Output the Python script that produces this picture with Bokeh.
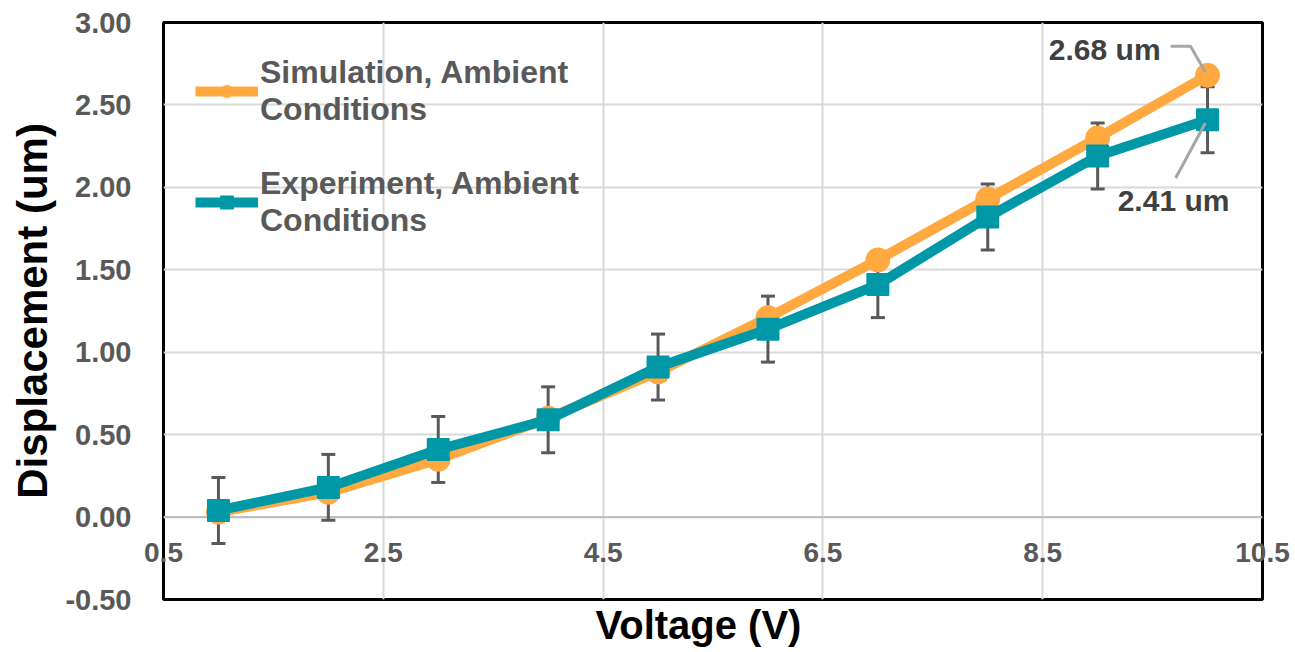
from bokeh.plotting import figure
from bokeh.models import (ColumnDataSource, FixedTicker, NumeralTickFormatter, Whisker,
                          TeeHead, Label, Legend, LegendItem, Title, Range1d, Span)
from bokeh.embed import file_html
from bokeh.resources import INLINE

# ---- data ----
voltage = [1, 2, 3, 4, 5, 6, 7, 8, 9, 10]
simulation = [0.03, 0.15, 0.35, 0.60, 0.88, 1.21, 1.56, 1.93, 2.30, 2.68]
experiment = [0.04, 0.18, 0.41, 0.59, 0.91, 1.14, 1.41, 1.82, 2.19, 2.41]
exp_error = [0.2, 0.2, 0.2, 0.2, 0.2, 0.2, 0.2, 0.2, 0.2, 0.2]
x_ticks = [0.5, 2.5, 4.5, 6.5, 8.5, 10.5]
y_ticks = [-0.5, 0.0, 0.5, 1.0, 1.5, 2.0, 2.5, 3.0]
x_axis_crossing = 0.0
sim_label = "Simulation, Ambient\nConditions"
exp_label = "Experiment, Ambient\nConditions"
sim_note = "2.68 um"
exp_note = "2.41 um"

ORANGE = "#FFA940"
TEAL = "#0098A6"
GRAY_TXT = "#595959"
FONT = "Liberation Sans"

p = figure(width=1295, height=652, x_range=Range1d(0.5, 10.5), y_range=Range1d(-0.5, 3.0),
           output_backend="svg", toolbar_location=None,
           min_border_left=163, min_border_top=22, min_border_right=33, min_border_bottom=53)
p.background_fill_color = "white"
p.border_fill_color = "white"
p.outline_line_color = "black"
p.outline_line_width = 3

# horizontal axis line where the x axis crosses (y = 0)
p.add_layout(Span(location=x_axis_crossing, dimension="width", line_color="#bfbfbf",
                  line_width=2, level="underlay"))

# x axis: labels lifted up into the plot so they sit just under the y = 0 line
p.xaxis.ticker = FixedTicker(ticks=x_ticks)
p.xaxis.formatter = NumeralTickFormatter(format="0.0")
p.xaxis.axis_line_color = None
p.xaxis.major_tick_line_color = None
p.xaxis.minor_tick_line_color = None
p.xaxis.major_tick_out = 0
p.xaxis.minor_tick_out = 0
p.xaxis.major_tick_in = 0
p.xaxis.minor_tick_in = 0
p.xaxis.major_label_text_font = FONT
p.xaxis.major_label_text_font_size = "28px"
p.xaxis.major_label_text_font_style = "bold"
p.xaxis.major_label_text_color = GRAY_TXT
p.xaxis.major_label_standoff = -57

p.yaxis.ticker = FixedTicker(ticks=y_ticks)
p.yaxis.formatter = NumeralTickFormatter(format="0.00")
p.yaxis.axis_line_color = None
p.yaxis.major_tick_line_color = None
p.yaxis.minor_tick_line_color = None
p.yaxis.major_label_text_font = FONT
p.yaxis.major_label_text_font_size = "29px"
p.yaxis.major_label_text_font_style = "bold"
p.yaxis.major_label_text_color = GRAY_TXT
p.yaxis.major_label_standoff = 26
p.yaxis.axis_label = "Displacement (um)"
p.yaxis.axis_label_text_font = FONT
p.yaxis.axis_label_text_font_size = "42px"
p.yaxis.axis_label_text_font_style = "bold"
p.yaxis.axis_label_text_color = "black"
p.yaxis.axis_label_standoff = 6

p.xgrid.ticker = FixedTicker(ticks=x_ticks)
p.ygrid.ticker = FixedTicker(ticks=y_ticks)
p.xgrid.grid_line_color = "#d9d9d9"
p.ygrid.grid_line_color = "#d9d9d9"
p.xgrid.grid_line_width = 2
p.ygrid.grid_line_width = 2

# error bars
src = ColumnDataSource(dict(
    x=voltage,
    upper=[e + d for e, d in zip(experiment, exp_error)],
    lower=[e - d for e, d in zip(experiment, exp_error)],
))
wh = Whisker(base="x", upper="upper", lower="lower", source=src,
             line_color="#595959", line_width=3, level="underlay",
             upper_head=TeeHead(size=14, line_color="#595959", line_width=3),
             lower_head=TeeHead(size=14, line_color="#595959", line_width=3))
p.add_layout(wh)

sl = p.line(voltage, simulation, line_color=ORANGE, line_width=10, line_join="round")
ss = p.scatter(voltage, simulation, marker="circle", size=24, fill_color=ORANGE, line_color=ORANGE)
el = p.line(voltage, experiment, line_color=TEAL, line_width=10, line_join="round")
es = p.scatter(voltage, experiment, marker="square", size=21, fill_color=TEAL, line_color=TEAL,
               line_width=2, line_join="round")

legend = Legend(items=[LegendItem(label=sim_label, renderers=[sl, ss]),
                       LegendItem(label=exp_label, renderers=[el, es])],
                location="top_left", background_fill_alpha=0, border_line_alpha=0,
                label_text_font=FONT, label_text_font_size="32px", label_text_font_style="bold",
                label_text_color=GRAY_TXT, label_text_line_height=1.1,
                glyph_width=63, glyph_height=30, spacing=37, padding=10, margin=22,
                label_standoff=2)
p.add_layout(legend)

# annotations for last values
xs, ys = voltage[-1], simulation[-1]
xe, ye = voltage[-1], experiment[-1]
p.line([xs - 0.336, xs - 0.155, xs - 0.02], [ys + 0.176, ys + 0.176, ys + 0.02],
       line_color="#a6a6a6", line_width=3)
p.line([xe - 0.29, xe - 0.02], [ye - 0.353, ye - 0.02], line_color="#a6a6a6", line_width=3)
p.add_layout(Label(x=xs, y=ys, x_offset=-47, y_offset=26, text=sim_note, text_align="right",
                   text_baseline="middle", text_font=FONT, text_font_size="30px",
                   text_font_style="bold", text_color="#404040"))
p.add_layout(Label(x=xe, y=ye, x_offset=-34, y_offset=-81, text=exp_note, text_align="center",
                   text_baseline="middle", text_font=FONT, text_font_size="30px",
                   text_font_style="bold", text_color="#404040"))

p.add_layout(Title(text="Voltage (V)", align="left", text_font=FONT, text_font_size="40px",
                   text_font_style="bold", text_color="black", standoff=2, offset=432), "below")

open("out.html", "w").write(file_html(p, INLINE))
